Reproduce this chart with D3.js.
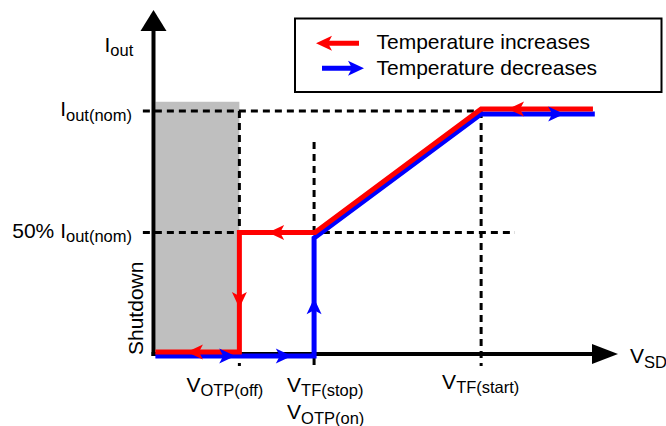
<!DOCTYPE html>
<html><head><meta charset="utf-8">
<script src="https://cdn.jsdelivr.net/npm/d3@7"></script>
<style>
body{margin:0;background:#fff}
svg{display:block;font-family:"Liberation Sans",Arial,Helvetica,sans-serif}
</style>
</head><body><svg id="c" width="666" height="426"></svg>
<script>
// ---------- data (schematic units) ----------
const xMarkNames = ["VOTP(off)", "VTF(stop)", "VTF(start)"];
const xMarkValues = [1.84, 3.45, 7.05];
const yMarkNames = ["Iout(nom)", "50% Iout(nom)"];
const yMarkValues = [100, 50];

const redX = [9.46, 7.05, 3.47, 1.84, 1.84, 0.03];
const redY = [100.8, 100.8, 50, 50, 0.8, 0.8];
const blueX = [0.03, 3.45, 3.45, 7.05, 9.5];
const blueY = [-0.8, -0.8, 47.7, 98.8, 98.8];

// arrowheads: [x, y, direction in screen degrees]
const redArrows = [[7.63, 100.8, 180], [2.46, 50, 180], [1.84, 18.9, 90], [0.71, 0.8, 180]];
const blueArrows = [[1.75, -0.8, 0], [2.97, -0.8, 0], [3.45, 22.9, -90], [8.84, 98.8, 0]];

const shutdownX = [0, 1.84];
const shutdownY = [0, 103.8];

const hDashes = [[100, -0.24, 7.05], [50, -0.24, 7.78]];
const vDashes = [[1.84, 100, -4.9], [3.45, 87.2, -4.9], [7.05, 100, -4.9]];

const legendLabels = ["Temperature increases", "Temperature decreases"];
const legendColors = ["#ff0000", "#0000ff"];

// ---------- scales ----------
const svg = d3.select("#c");
const x = d3.scaleLinear().domain([0, 10]).range([154, 618]);
const y = d3.scaleLinear().domain([0, 100]).range([354, 111]);

// shaded shutdown region
svg.append("rect")
  .attr("x", x(shutdownX[0]) + 1.5).attr("y", y(shutdownY[1]))
  .attr("width", x(shutdownX[1]) - x(shutdownX[0]) - 1.5)
  .attr("height", y(shutdownY[0]) - y(shutdownY[1]))
  .attr("fill", "#bfbfbf");

// dashed reference lines
svg.selectAll("line.hd").data(hDashes).join("line")
  .attr("x1", d => x(d[1])).attr("x2", d => x(d[2]))
  .attr("y1", d => y(d[0])).attr("y2", d => y(d[0]))
  .attr("stroke", "#000").attr("stroke-width", 3).attr("stroke-dasharray", "7,5");
svg.selectAll("line.vd").data(vDashes).join("line")
  .attr("x1", d => x(d[0])).attr("x2", d => x(d[0]))
  .attr("y1", d => y(d[1])).attr("y2", d => y(d[2]))
  .attr("stroke", "#000").attr("stroke-width", 3).attr("stroke-dasharray", "7,5");

// axes
const ax = x(0) - 0.5, ay = y(0);
svg.append("line").attr("x1", ax).attr("x2", ax).attr("y1", ay + 2).attr("y2", 28)
  .attr("stroke", "#000").attr("stroke-width", 4);
svg.append("path").attr("d", `M${ax},10 L${ax - 13},31 L${ax + 13},31 Z`).attr("fill", "#000");
svg.append("line").attr("x1", ax - 2).attr("x2", 595).attr("y1", ay).attr("y2", ay)
  .attr("stroke", "#000").attr("stroke-width", 4);
svg.append("path").attr("d", `M618,${ay} L592,${ay - 10} L592,${ay + 10} Z`).attr("fill", "#000");

// series lines
const line = d3.line().x(d => x(d[0])).y(d => y(d[1]));
svg.append("path").datum(blueX.map((v, i) => [v, blueY[i]])).attr("d", line)
  .attr("fill", "none").attr("stroke", "#0000ff").attr("stroke-width", 5);
svg.append("path").datum(redX.map((v, i) => [v, redY[i]])).attr("d", line)
  .attr("fill", "none").attr("stroke", "#ff0000").attr("stroke-width", 5);

const headPath = "M0,0 L-16,-7.5 L-12,0 L-16,7.5 Z";
function heads(data, color) {
  svg.append("g").selectAll("path").data(data).join("path")
    .attr("d", headPath)
    .attr("transform", d => `translate(${x(d[0])},${y(d[1])}) rotate(${d[2]})`)
    .attr("fill", color);
}
heads(redArrows, "#ff0000");
heads(blueArrows, "#0000ff");

// axis titles
const F = 21, S = 16.5;
function subText(g, xx, yy, pre, sub, anchor, size) {
  const t = g.append("text").attr("x", xx).attr("y", yy).attr("text-anchor", anchor || "start")
    .attr("fill", "#000").attr("font-size", size || F);
  t.append("tspan").text(pre);
  t.append("tspan").attr("dy", 4.5).attr("font-size", S).text(sub);
  return t;
}
subText(svg, 104.5, 51.7, "I", "out");
subText(svg, 630, 363, "V", "SD");

// y tick labels
yMarkNames.forEach((n, i) => {
  const k = n.indexOf("I");
  subText(svg, 132, y(yMarkValues[i]) + 5, n.slice(0, k + 1), n.slice(k + 1), "end");
});

// x tick labels
const xOff = [-53, -27, -39];
const xBase = [391.5, 391.5, 388.5];
xMarkNames.forEach((n, i) => {
  subText(svg, x(xMarkValues[i]) + xOff[i], xBase[i], n[0], n.slice(1));
});
subText(svg, x(xMarkValues[1]) + xOff[1], 419, "V", "OTP(on)");

// Shutdown label
svg.append("text").attr("transform", `translate(143,355) rotate(-90)`)
  .attr("font-size", F).attr("fill", "#000").text("Shutdown");

// legend
const lg = svg.append("g");
lg.append("rect").attr("x", 295).attr("y", 18.5).attr("width", 366.5).attr("height", 73.5)
  .attr("fill", "#fff").attr("stroke", "#000").attr("stroke-width", 2);
const ly = [43.3, 68.3], lb = [48.5, 75];
// red: pointing left
lg.append("line").attr("x1", 359).attr("x2", 324).attr("y1", ly[0]).attr("y2", ly[0])
  .attr("stroke", legendColors[0]).attr("stroke-width", 5);
lg.append("path").attr("d", headPath).attr("transform", `translate(316,${ly[0]}) rotate(180)`).attr("fill", legendColors[0]);
// blue: pointing right
lg.append("line").attr("x1", 322).attr("x2", 356).attr("y1", ly[1]).attr("y2", ly[1])
  .attr("stroke", legendColors[1]).attr("stroke-width", 5);
lg.append("path").attr("d", headPath).attr("transform", `translate(364,${ly[1]})`).attr("fill", legendColors[1]);
legendLabels.forEach((t, i) => {
  lg.append("text").attr("x", 376.5).attr("y", lb[i]).attr("font-size", F).attr("fill", "#000").text(t);
});
</script>
</body></html>
